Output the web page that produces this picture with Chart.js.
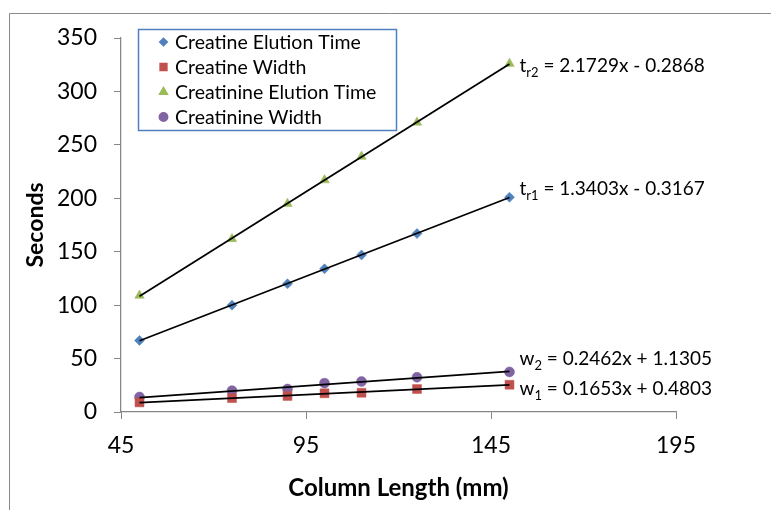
<!DOCTYPE html>
<html>
<head>
<meta charset="utf-8">
<script src="https://cdn.jsdelivr.net/npm/chart.js@4.4.1/dist/chart.umd.min.js"></script>
<style>
  html, body { margin: 0; padding: 0; background: #fff; }
  #wrap { width: 771px; height: 510px; position: relative; }
</style>
</head>
<body>
<div id="wrap"><canvas id="plot"></canvas></div>
<script>
// column length (mm) and measured times / peak widths (s)
var columnLength = [50, 75, 90, 100, 110, 125, 150];
var creatineTime = [67, 100, 120, 134, 147, 167, 201];
var creatineWidth = [9, 13, 15, 17.5, 18, 21.5, 25.5];
var creatinineTime = [109, 162, 195, 217, 239, 271, 326];
var creatinineWidth = [14, 20, 21.5, 27, 28.5, 32.5, 37.5];

var seriesNames = ["Creatine Elution Time", "Creatine Width", "Creatinine Elution Time", "Creatinine Width"];
var seriesValues = [creatineTime, creatineWidth, creatinineTime, creatinineWidth];
var seriesColors = ["#4F81BD", "#C0504D", "#9BBB59", "#8064A2"];
var seriesMarkers = ["rectRot", "rect", "triangle", "circle"];
var markerRadius = [5, 6.3, 5.5, 5];
var legendRadius = [3.8, 4.8, 4.6, 4.2];

// linear fits: y = slope * x + intercept
var fitSlope = [1.3403, 0.1653, 2.1729, 0.2462];
var fitIntercept = [-0.3167, 0.4803, -0.2868, 1.1305];
var fitSymbol = ["t", "w", "t", "w"];
var fitSub = ["r1", "1", "r2", "2"];
var fitText = [" = 1.3403x - 0.3167", " = 0.1653x + 0.4803", " = 2.1729x - 0.2868", " = 0.2462x + 1.1305"];
var fitLabelDy = [-3, 10, 8, -6];

var FONT = "Lato, 'Open Sans', sans-serif";

var datasets = [];
for (var i = 0; i < seriesNames.length; i++) {
  datasets.push({
    label: seriesNames[i],
    data: columnLength.map(function (x, k) { return { x: x, y: seriesValues[i][k] }; }),
    showLine: false,
    pointStyle: seriesMarkers[i],
    pointRadius: markerRadius[i],
    pointBackgroundColor: seriesColors[i],
    pointBorderColor: seriesColors[i],
    pointBorderWidth: 0.5,
    order: 2
  });
}
for (var j = 0; j < fitSlope.length; j++) {
  var x0 = columnLength[0], x1 = columnLength[columnLength.length - 1];
  datasets.push({
    label: "fit" + j,
    data: [{ x: x0, y: fitSlope[j] * x0 + fitIntercept[j] }, { x: x1, y: fitSlope[j] * x1 + fitIntercept[j] }],
    showLine: true,
    borderColor: "#000",
    borderWidth: 1.75,
    pointRadius: 0,
    order: 1
  });
}

// white page with the thin grey frame
var framePlugin = {
  id: "frame",
  beforeDraw: function (chart) {
    var ctx = chart.ctx;
    ctx.save();
    ctx.fillStyle = "#fff";
    ctx.fillRect(0, 0, chart.width, chart.height);
    ctx.strokeStyle = "#8a8a8a";
    ctx.lineWidth = 1;
    ctx.beginPath();
    ctx.moveTo(9.5, chart.height + 2);
    ctx.lineTo(9.5, 13.5);
    ctx.lineTo(chart.width + 2, 13.5);
    ctx.stroke();
    ctx.restore();
  }
};

// boxed legend in the upper left of the plot
var legendPlugin = {
  id: "boxLegend",
  afterDraw: function (chart) {
    var ctx = chart.ctx;
    ctx.save();
    ctx.fillStyle = "#fff";
    ctx.fillRect(138.5, 29.5, 258, 101);
    ctx.strokeStyle = "#4F81BD";
    ctx.lineWidth = 1.5;
    ctx.strokeRect(138.5, 29.5, 258, 101);
    ctx.font = "19.5px " + FONT;
    ctx.textBaseline = "middle";
    ctx.textAlign = "left";
    for (var i = 0; i < seriesNames.length; i++) {
      var y = 42 + i * 25;
      ctx.fillStyle = seriesColors[i];
      ctx.strokeStyle = seriesColors[i];
      Chart.helpers.drawPoint(ctx, { pointStyle: seriesMarkers[i], radius: legendRadius[i], borderWidth: 0.5, rotation: 0 }, 163.5, y);
      ctx.fillStyle = "#000";
      ctx.fillText(seriesNames[i], 175, y + 1);
    }
    ctx.restore();
  }
};

// trendline equations beside the last point of each fit
var equationPlugin = {
  id: "equations",
  afterDatasetsDraw: function (chart) {
    var ctx = chart.ctx, xs = chart.scales.x, ys = chart.scales.y;
    var xEnd = columnLength[columnLength.length - 1];
    ctx.save();
    ctx.fillStyle = "#000";
    ctx.textBaseline = "alphabetic";
    ctx.textAlign = "left";
    for (var i = 0; i < fitSlope.length; i++) {
      var px = xs.getPixelForValue(xEnd) + 10;
      var py = ys.getPixelForValue(fitSlope[i] * xEnd + fitIntercept[i]) + fitLabelDy[i];
      ctx.font = "19px " + FONT;
      ctx.fillText(fitSymbol[i], px, py);
      px += ctx.measureText(fitSymbol[i]).width;
      ctx.font = "13px " + FONT;
      ctx.fillText(fitSub[i], px, py + 5);
      px += ctx.measureText(fitSub[i]).width;
      ctx.font = "19px " + FONT;
      ctx.fillText(fitText[i], px, py);
    }
    ctx.restore();
  }
};

new Chart(document.getElementById("plot"), {
  type: "scatter",
  data: { datasets: datasets },
  plugins: [framePlugin, legendPlugin, equationPlugin],
  options: {
    responsive: true,
    maintainAspectRatio: false,
    animation: false,
    events: [],
    layout: { padding: { top: 38, right: 95, left: 0, bottom: 0 } },
    plugins: { legend: { display: false }, tooltip: { enabled: false } },
    scales: {
      x: {
        type: "linear",
        min: 45,
        max: 195,
        afterFit: function (s) { s.height = 98; },
        ticks: { stepSize: 50, color: "#000", padding: 13, font: { family: FONT, size: 23 } },
        grid: { drawOnChartArea: false, tickLength: 7, color: "#868686" },
        border: { color: "#868686", width: 1.25 },
        title: { display: true, text: "Column Length (mm)", color: "#000", padding: { top: 0, bottom: 7 }, font: { family: FONT, size: 24, weight: "bold" } }
      },
      y: {
        min: 0,
        max: 350,
        afterFit: function (s) { s.width = 121; },
        ticks: { stepSize: 50, color: "#000", padding: 17, font: { family: FONT, size: 23 } },
        grid: { drawOnChartArea: false, tickLength: 7, color: "#868686" },
        border: { color: "#868686", width: 1.25 },
        title: { display: true, text: "Seconds", color: "#000", padding: { top: 22, bottom: 0 }, font: { family: FONT, size: 23, weight: "bold" } }
      }
    }
  }
});
</script>
</body>
</html>
